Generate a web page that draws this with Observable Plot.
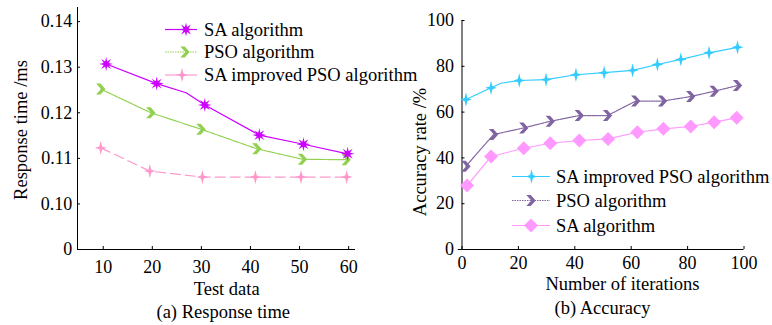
<!DOCTYPE html>
<html><head><meta charset="utf-8">
<script src="https://cdn.jsdelivr.net/npm/d3@7"></script>
<script src="https://cdn.jsdelivr.net/npm/@observablehq/plot@0.6"></script>
<style>
body{margin:0;background:#fff;}
#wrap{position:relative;width:772px;height:325px;font-family:"Liberation Serif","Times New Roman",serif;}
#wrap svg{position:absolute;top:0;}
</style></head><body><div id="wrap"></div>
<script>
// ---------- Panel (a): response time ----------
const saX   = [10.6, 20.9, 26.9, 30.7, 41.8, 50.8, 59.8];
const saY   = [0.1307, 0.1264, 0.1244, 0.1217, 0.1151, 0.1131, 0.1110];
const saMk  = [1, 1, 0, 1, 1, 1, 1];
const psoX  = [9.5, 19.7, 29.9, 41.3, 50.6, 59.5];
const psoY  = [0.1252, 0.1200, 0.1164, 0.1121, 0.1098, 0.1097];
const impX  = [9.5, 19.5, 30.2, 41.0, 50.3, 59.6];
const impY  = [0.1123, 0.1072, 0.1059, 0.1059, 0.1059, 0.1059];
const xTicksA = [10, 20, 30, 40, 50, 60];
const yTicksA = [0.09, 0.10, 0.11, 0.12, 0.13, 0.14];
const yTickLabelsA = ["0", "0.10", "0.11", "0.12", "0.13", "0.14"];

// ---------- Panel (b): accuracy ----------
const impRX = [1.4, 10.3, 13.8, 20.3, 29.8, 40.4, 50.4, 60.5, 69.3, 77.6, 87.6, 97.7];
const impRY = [65.5, 70.6, 72.6, 73.8, 74.2, 76.3, 77.2, 78.2, 80.8, 83.0, 85.9, 88.3];
const impRMk = [1, 1, 0, 1, 1, 1, 1, 1, 1, 1, 1, 1];
const psoRX = [1.4, 11.2, 21.9, 31.3, 41.6, 51.6, 61.6, 71.1, 81.1, 89.4, 97.7];
const psoRY = [36.4, 50.2, 53.1, 56.0, 58.5, 58.5, 64.8, 64.8, 66.8, 69.1, 71.6];
const saRX  = [1.8, 10.3, 21.9, 31.3, 41.6, 51.8, 62.2, 71.4, 81.1, 89.4, 97.4];
const saRY  = [27.9, 40.6, 44.2, 46.4, 47.6, 48.3, 51.2, 52.7, 53.7, 55.6, 57.5];
const xTicksB = [0, 20, 40, 60, 80, 100];
const yTicksB = [0, 20, 40, 60, 80, 100];

// ---------- custom marker symbols ----------
const rad = s => Math.sqrt(s / Math.PI);
const star8 = {draw(c, s) { const r = rad(s); for (let i = 0; i < 16; i++) { const a = i * Math.PI / 8 - Math.PI / 2; const rr = i % 2 ? r * 0.38 : r; const px = rr * Math.cos(a), py = rr * Math.sin(a); i ? c.lineTo(px, py) : c.moveTo(px, py); } c.closePath(); }};
const star4 = {draw(c, s) { const r = rad(s); const k = r * 0.22; c.moveTo(0, -r * 1.1); c.lineTo(k, -k); c.lineTo(r * 0.9, 0); c.lineTo(k, k); c.lineTo(0, r * 1.1); c.lineTo(-k, k); c.lineTo(-r * 0.9, 0); c.lineTo(-k, -k); c.closePath(); }};
const chevron = {draw(c, s) { const r = rad(s); c.moveTo(-0.85 * r, -r); c.lineTo(-0.05 * r, -r); c.lineTo(0.85 * r, 0); c.lineTo(-0.05 * r, r); c.lineTo(-0.85 * r, r); c.lineTo(0.05 * r, 0); c.closePath(); }};
const diamond = {draw(c, s) { const r = rad(s); c.moveTo(0, -r); c.lineTo(r, 0); c.lineTo(0, r); c.lineTo(-r, 0); c.closePath(); }};

const pts = (xs, ys, mk) => xs.map((x, i) => ({x, y: ys[i], m: mk ? mk[i] : 1}));
const font = {fontFamily: "'Liberation Serif','Times New Roman',serif", fontSize: "18px", color: "#000", background: "transparent", overflow: "visible"};

const C = {sa: "#cc00ff", pso: "#92d050", imp: "#ff99cc", impR: "#33ccff", psoR: "#8064a2", saR: "#ff99ff"};

const saA = pts(saX, saY, saMk), psoA = pts(psoX, psoY), impA = pts(impX, impY);
const xDomA = [4.76, 61.4];
const plotA = Plot.plot({
  width: 386, height: 325,
  marginLeft: 77, marginRight: 31, marginTop: 7, marginBottom: 76,
  style: font,
  x: {domain: xDomA},
  y: {domain: [0.09, 0.1431]},
  marks: [
    Plot.axisY({ticks: yTicksA, tickFormat: d => yTickLabelsA[yTicksA.indexOf(d)], tickSize: -3, tickPadding: 8.3, label: null}),
    Plot.axisX({ticks: xTicksA, tickSize: -3, tickPadding: 14.2, label: null}),
    Plot.ruleX([xDomA[0]]),
    Plot.ruleY([0.09]),
    Plot.line(impA, {x: "x", y: "y", stroke: C.imp, strokeWidth: 1.2, strokeDasharray: "10,5"}),
    Plot.line(psoA, {x: "x", y: "y", stroke: C.pso, strokeWidth: 1.2, strokeDasharray: "1.5,1"}),
    Plot.line(saA, {x: "x", y: "y", stroke: C.sa, strokeWidth: 1.2}),
    Plot.dot(impA, {x: "x", y: "y", symbol: star4, r: 6.5, fill: C.imp, stroke: "none"}),
    Plot.dot(psoA, {x: "x", y: "y", symbol: chevron, r: 5.5, fill: C.pso, stroke: "none"}),
    Plot.dot(saA.filter(d => d.m), {x: "x", y: "y", symbol: star8, r: 7, fill: C.sa, stroke: "none"})
  ]
});

const impB = pts(impRX, impRY, impRMk), psoB = pts(psoRX, psoRY), saB = pts(saRX, saRY);
const plotB = Plot.plot({
  width: 386, height: 325,
  marginLeft: 75.5, marginRight: 28.5, marginTop: 20, marginBottom: 76,
  style: font,
  x: {domain: [0, 100]},
  y: {domain: [0, 100]},
  marks: [
    Plot.axisY({ticks: yTicksB, tickSize: -3, tickPadding: 11, label: null}),
    Plot.axisX({ticks: xTicksB, tickSize: -3, tickPadding: 10.2, label: null}),
    Plot.ruleX([0]),
    Plot.ruleY([0], {x1: -1.3, x2: 100}),
    Plot.line(saB, {x: "x", y: "y", stroke: C.saR, strokeWidth: 1.2}),
    Plot.line(psoB, {x: "x", y: "y", stroke: C.psoR, strokeWidth: 1.2, strokeDasharray: "1.5,1"}),
    Plot.line(impB, {x: "x", y: "y", stroke: C.impR, strokeWidth: 1.2}),
    Plot.dot(saB, {x: "x", y: "y", symbol: diamond, r: 7, fill: C.saR, stroke: "none"}),
    Plot.dot(psoB, {x: "x", y: "y", symbol: chevron, r: 5.5, fill: C.psoR, stroke: "none"}),
    Plot.dot(impB.filter(d => d.m), {x: "x", y: "y", symbol: star4, r: 6.5, fill: C.impR, stroke: "none"})
  ]
});

const wrap = document.getElementById("wrap");
plotA.style.left = "0px";
plotB.style.left = "386px";
wrap.appendChild(plotA);
wrap.appendChild(plotB);

// ---------- overlay: labels, captions, legends ----------
const ov = d3.select(wrap).append("svg").attr("width", 772).attr("height", 325)
  .style("left", "0px").style("pointer-events", "none")
  .attr("font-family", "'Liberation Serif','Times New Roman',serif").attr("font-size", 18.5).attr("fill", "#000");

ov.append("text").attr("transform", "translate(21,130) rotate(-90)").attr("text-anchor", "middle").attr("dy", "0.35em").text("Response time /ms");
ov.append("text").attr("x", 226.7).attr("y", 294.5).attr("text-anchor", "middle").text("Test data");
ov.append("text").attr("x", 223.3).attr("y", 318).attr("text-anchor", "middle").text("(a) Response time");

ov.append("text").attr("transform", "translate(420,152) rotate(-90)").attr("text-anchor", "middle").attr("dy", "0.35em").text("Accuracy rate /%");
ov.append("text").attr("x", 622.5).attr("y", 289.5).attr("text-anchor", "middle").text("Number of iterations");
ov.append("text").attr("x", 602.5).attr("y", 313.5).attr("text-anchor", "middle").text("(b) Accuracy");

function legendItem(x0, x1, mx, y, color, dash, sym, r, label, tx) {
  ov.append("line").attr("x1", x0).attr("x2", x1).attr("y1", y).attr("y2", y)
    .attr("stroke", color).attr("stroke-width", 1.2).attr("stroke-dasharray", dash);
  const p = d3.path(); sym.draw(p, Math.PI * r * r);
  ov.append("path").attr("d", p.toString()).attr("transform", `translate(${mx},${y})`).attr("fill", color);
  ov.append("text").attr("x", tx).attr("y", y + 6).text(label);
}
const legA = ["SA algorithm", "PSO algorithm", "SA improved PSO algorithm"];
legendItem(165, 197, 186, 29.5, C.sa, null, star8, 7, legA[0], 204);
legendItem(165, 197, 185, 52, C.pso, "1.5,1", chevron, 5.5, legA[1], 204);
legendItem(165, 197, 182, 75, C.imp, null, star4, 6.5, legA[2], 204);

const legB = ["SA improved PSO algorithm", "PSO algorithm", "SA algorithm"];
legendItem(512, 550, 531.5, 176.5, C.impR, null, star4, 6.5, legB[0], 556);
legendItem(512, 550, 531, 200.5, C.psoR, "1.5,1", chevron, 5.5, legB[1], 556);
legendItem(512, 550, 531, 225.5, C.saR, null, diamond, 7, legB[2], 556);
</script>
</body></html>
